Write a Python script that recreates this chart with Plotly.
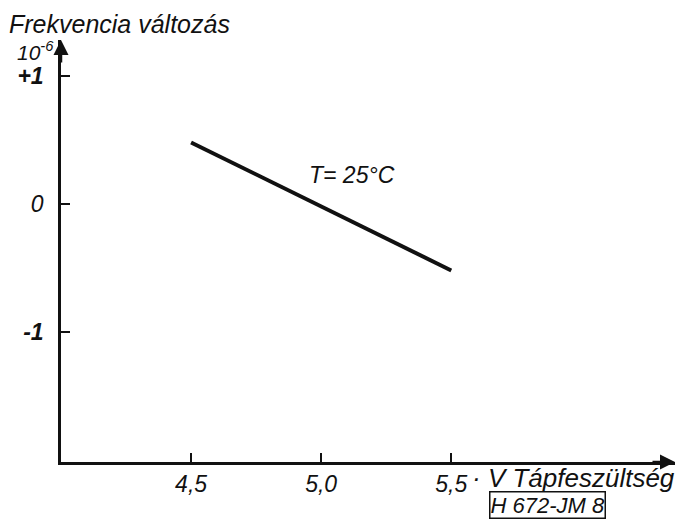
import plotly.graph_objects as go

# Data
voltage = [4.5, 5.5]            # V (Tápfeszültség)
freq_change = [0.48, -0.52]     # 10^-6 (Frekvencia változás)

x_ticks = [4.5, 5.0, 5.5]
x_tick_labels = ["4,5", "5,0", "5,5"]
y_ticks = [1, 0, -1]
y_tick_labels = ["+1", "0", "-1"]

FONT = "Liberation Sans"
BLACK = "#111111"
X0, X1 = 4.0, 6.36
Y0, Y1 = -2.016, 1.28

fig = go.Figure()
fig.add_trace(go.Scatter(
    x=voltage, y=freq_change, mode="lines",
    line=dict(color=BLACK, width=4), showlegend=False, hoverinfo="skip",
))

fig.update_layout(
    width=675, height=516,
    margin=dict(l=53, r=8, t=32, b=62),
    paper_bgcolor="white", plot_bgcolor="white",
    font=dict(family=FONT, color=BLACK, size=23),
    xaxis=dict(
        range=[X0, X1], showgrid=False, zeroline=False, automargin=False,
        showline=True, linecolor=BLACK, linewidth=2.5,
        ticks="inside", ticklen=9, tickwidth=1.5, tickcolor=BLACK,
        tickvals=x_ticks, ticktext=[f"<i>{t}</i>" for t in x_tick_labels],
        tickfont=dict(size=23, family=FONT, color=BLACK),
    ),
    yaxis=dict(
        range=[Y0, Y1], showgrid=False, zeroline=False, automargin=False,
        showline=True, linecolor=BLACK, linewidth=2.5,
        ticks="inside", ticklen=9, tickwidth=1.5, tickcolor=BLACK,
        ticklabelstandoff=10,
        tickvals=y_ticks,
        ticktext=[f"<i><b>{t}</b></i>" if t != "0" else f"<i>{t}</i>" for t in y_tick_labels],
        tickfont=dict(size=23, family=FONT, color=BLACK),
    ),
)

# axis arrows
fig.add_annotation(x=X0, y=Y1, xref="x", yref="y", ax=0, ay=24,
                   showarrow=True, arrowhead=2, arrowsize=1.2, arrowwidth=2.5,
                   arrowcolor=BLACK, text="")
fig.add_annotation(x=X1, y=Y0, xref="x", yref="y", ax=-24, ay=0,
                   showarrow=True, arrowhead=2, arrowsize=1.2, arrowwidth=2.5,
                   arrowcolor=BLACK, text="")

# titles and labels
fig.add_annotation(x=X0, y=Y1, xref="x", yref="y", xshift=-54, yshift=0,
                   xanchor="left", yanchor="bottom", showarrow=False,
                   text="<i>Frekvencia változás</i>", font=dict(size=25))
fig.add_annotation(x=X0, y=Y1, xref="x", yref="y", xshift=-5, yshift=4,
                   xanchor="right", yanchor="top", showarrow=False,
                   text="<i>10<sup>-6</sup></i>", font=dict(size=21))
fig.add_annotation(x=5.573, y=Y0, xref="x", yref="y", yshift=1,
                   xanchor="left", yanchor="top", showarrow=False,
                   text="<i>· V Tápfeszültség</i>", font=dict(size=26))
fig.add_annotation(x=5.119, y=0.227, xref="x", yref="y",
                   showarrow=False, text="<i>T= 25°C</i>", font=dict(size=23))
fig.add_annotation(x=5.646, y=Y0, xref="x", yref="y", yshift=-43,
                   xanchor="left", yanchor="middle", showarrow=False,
                   text="<i>H 672-JM 8</i>", font=dict(size=22),
                   bordercolor=BLACK, borderwidth=1.5, borderpad=0)

fig.write_html("out.html")
